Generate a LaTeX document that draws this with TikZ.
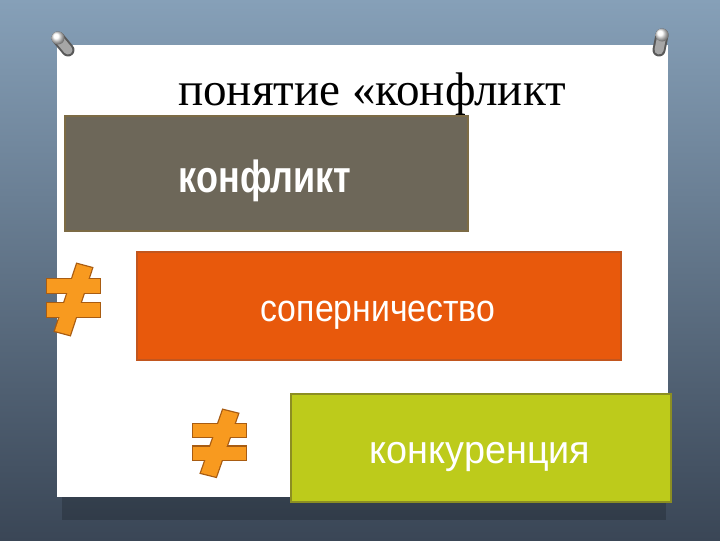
\documentclass[tikz,border=0pt]{standalone}
\usepackage{fontspec}
\usepackage{graphicx}
\setmainfont{Liberation Serif}
\setsansfont{Liberation Sans}
\usetikzlibrary{positioning}
\newcommand{\pxu}{0.025cm}
\definecolor{bgtop}{HTML}{86A0B8}
\definecolor{bgbottom}{HTML}{3A4656}
\definecolor{conflictfill}{HTML}{6D6759}
\definecolor{conflictedge}{HTML}{7C6B45}
\definecolor{rivalfill}{HTML}{E8590C}
\definecolor{rivaledge}{HTML}{C2561E}
\definecolor{compfill}{HTML}{BDCB1B}
\definecolor{compedge}{HTML}{8C8E22}
\definecolor{neqfill}{HTML}{F89A1F}
\definecolor{neqedge}{HTML}{A85C12}
\tikzset{
  neqline/.style={draw=neqedge, line width=2.5*\pxu},
  neqbody/.style={fill=neqfill},
}
% not-equal sign, local pixel coordinates
\newcommand{\neqsign}[3]{%
  \begin{scope}[shift={(#1,#2)}, yscale=#3]
    \foreach \opt in {neqline, neqbody} {
      \path[\opt] (0,16) rectangle (53,30);
      \path[\opt] (0,40) rectangle (53,54);
      \path[\opt] (30,1) -- (45,5) -- (23,72) -- (8,68) -- cycle;
    }
  \end{scope}}
\newcommand{\pushpin}[4]{%
  \draw[line width=13*\pxu, line cap=round, black!65] (#3,#4) -- (#1,#2);
  \draw[line width=9*\pxu, line cap=round, black!35] (#3,#4) -- (#1,#2);
  \shade[ball color=white] (#1,#2) circle[radius=6.5];}

\begin{document}
\begin{tikzpicture}[x=\pxu, y=-\pxu,
    block/.style={rectangle, inner sep=0pt, line width=1.5*\pxu},
    blocktext/.style={anchor=base, text=white, inner sep=0pt},
  ]
  \useasboundingbox (0,0) rectangle (720,540);
  % background and card
  \shade[top color=bgtop, bottom color=bgbottom] (0,0) rectangle (720,540);
  \fill[black, opacity=0.18] (62,495) rectangle (666,520);
  \node[rectangle, fill=white, inner sep=0pt, minimum width=611*\pxu, minimum height=452*\pxu] (card) at (362.5,271) {};
  \pushpin{58}{38}{68}{50}
  \pushpin{662}{35}{659}{50}

  \node[anchor=base, inner sep=0pt, font=\fontsize{33.5}{36}\selectfont] (title) at (372,105) {понятие «конфликт};

  % blocks
  \node[block, fill=conflictfill, draw=conflictedge, minimum width=403*\pxu, minimum height=115*\pxu] (conflict) at (266.5,173.5) {};
  \node[blocktext, font=\sffamily\bfseries\fontsize{32}{36}\selectfont] (conflicttext) at (265,192) {\scalebox{0.8}[1]{конфликт}};

  \node[block, fill=rivalfill, draw=rivaledge, minimum width=484*\pxu, minimum height=108*\pxu] (rivalry) at (379,306) {};
  \node[blocktext, font=\sffamily\fontsize{27}{30}\selectfont] (rivalrytext) at (378,321) {\scalebox{0.89}[1]{соперничество}};

  \node[block, fill=compfill, draw=compedge, minimum width=380*\pxu, minimum height=108*\pxu] (competition) at (481,448) {};
  \node[blocktext, font=\sffamily\fontsize{28}{30}\selectfont] (competitiontext) at (480,463) {\scalebox{0.96}[1]{конкуренция}};

  % not-equal signs
  \neqsign{47}{263}{1}
  \neqsign{193}{409}{0.94}
\end{tikzpicture}
\end{document}
